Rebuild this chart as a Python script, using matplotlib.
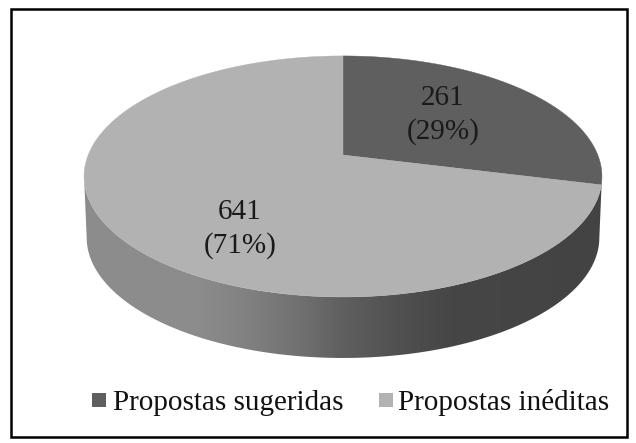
import numpy as np
import matplotlib
matplotlib.use("Agg")
import matplotlib.pyplot as plt
from matplotlib.patches import Polygon, Rectangle
from matplotlib.colors import LinearSegmentedColormap

categories = ["Propostas sugeridas", "Propostas inéditas"]
values = [261, 641]
labels = ["261\n(29%)", "641\n(71%)"]
colors = ["#5f5f5f", "#b2b2b2"]

W, H = 636, 443
plt.rcParams['font.family'] = ['Liberation Serif']
fig = plt.figure(figsize=(W/100, H/100), dpi=100)
ax = fig.add_axes([0, 0, 1, 1])
ax.set_xlim(0, W); ax.set_ylim(H, 0); ax.axis("off")

cx, cy = 343, 155
c = 0.178
a = 116.7
d = 254.8

def project(theta, dy=0.0, sx=1.0):
    u = np.sin(theta); v = np.cos(theta)
    den = 1 + c*v
    return cx + sx*d*u/den, cy + dy - a*v/den

ax.add_patch(Rectangle((11, 8.5), 616, 428, fc="white", ec="black", lw=1.8, zorder=0))

# side wall with gradient
t0 = np.arccos(-c)
th = np.linspace(t0, 2*np.pi - t0, 400)
xt, yt = project(th)
xb, yb = project(th[::-1], dy=61, sx=0.99)
side = Polygon(np.r_[np.c_[xt, yt], np.c_[xb, yb]], closed=True, fc="none", ec="none")
ax.add_patch(side)
stops = [(0, "#8c8c8c"), (0.22, "#8c8c8c"), (0.32, "#808080"), (0.42, "#707070"),
         (0.5, "#5f5f5f"), (0.61, "#505050"), (0.71, "#464646"), (1, "#434343")]
cmap = LinearSegmentedColormap.from_list("side", stops)
im = ax.imshow(np.linspace(1, 0, 256)[None, ::-1], cmap=cmap, extent=(84, 602, 370, 150),
               aspect="auto", zorder=1)
im.set_clip_path(side)
ax.set_xlim(0, W); ax.set_ylim(H, 0)

# top faces from values
fr = np.cumsum([0] + values) / sum(values) * 2*np.pi
for i, col in enumerate(colors):
    t = np.linspace(fr[i], fr[i+1], 300)
    x, y = project(t)
    ax.add_patch(Polygon(np.r_[[[cx, cy]], np.c_[x, y]], closed=True, fc=col, ec=col, lw=0.3, zorder=2))

fs = 21
ax.text(443, 115, labels[0], ha="center", va="center", fontsize=fs, color="#1a1a1a", zorder=3, linespacing=1.3)
ax.text(240, 229, labels[1], ha="center", va="center", fontsize=fs, color="#1a1a1a", zorder=3, linespacing=1.3)

# legend
lx = [92, 379]
tx = [113, 398]
for i in range(2):
    ax.add_patch(Rectangle((lx[i], 393), 14, 14, fc=colors[i], ec="none", zorder=3))
    ax.text(tx[i], 403, categories[i], ha="left", va="center", fontsize=fs, color="#111111", zorder=3)

fig.savefig("out.png", dpi=100)
